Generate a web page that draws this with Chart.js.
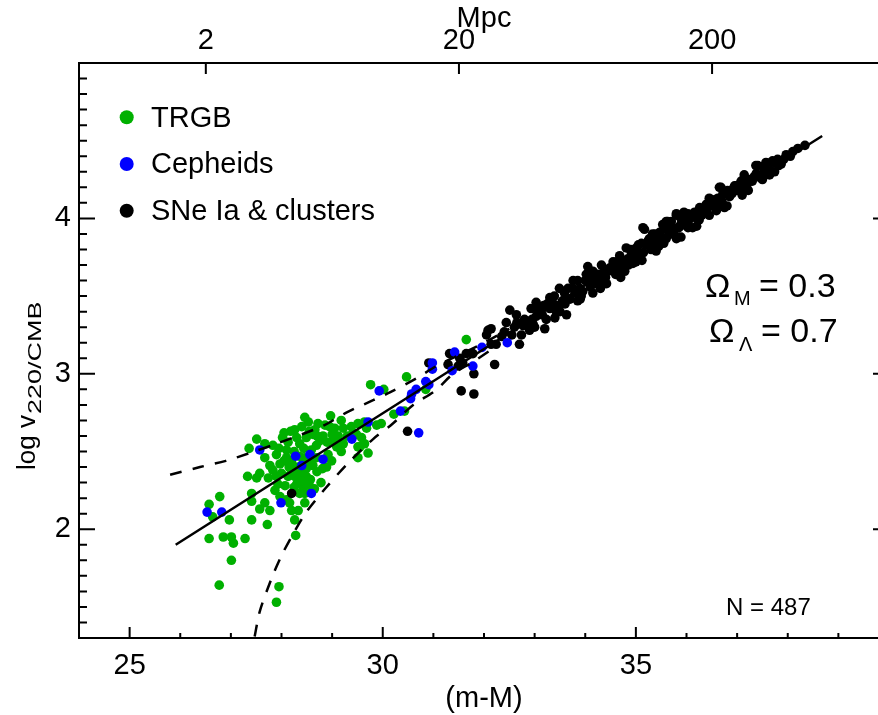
<!DOCTYPE html>
<html>
<head>
<meta charset="utf-8">
<script src="https://cdn.jsdelivr.net/npm/chart.js@4.4.1/dist/chart.umd.min.js"></script>
<style>
  html, body { margin: 0; padding: 0; background: #fff; overflow: hidden; }
  canvas { display: block; }
</style>
</head>
<body>
<canvas id="hubble" width="900" height="715"></canvas>
<script>
// distance modulus (m-M) and log v220/CMB
const trgbMu = [28.46,28.53,28.97,29.18,28.86,29.05,29.22,29.38,29.51,28.26,28.66,28.49,28.62,28.76,28.82,
  27.51,27.36,27.67,27.83,28.02,28.13,28.30,28.36,28.44,27.90,28.10,28.10,28.20,27.67,27.77,27.83,27.57,
  27.51,27.33,27.74,27.90,28.00,28.13,28.26,28.36,28.49,28.57,27.93,28.07,28.30,28.43,28.49,27.87,27.97,
  28.10,28.36,28.46,27.41,27.41,27.67,27.77,27.57,27.41,27.72,26.78,26.57,26.64,26.97,28.16,28.20,28.33,
  28.26,28.46,29.22,29.09,29.02,29.18,28.92,28.99,28.89,28.81,29.48,29.51,29.51,28.69,28.59,28.69,28.43,
  28.33,28.49,27.97,28.20,26.57,26.85,27.01,27.05,27.28,27.01,26.77,27.95,27.90,28.28,31.65,29.76,30.47,
  30.02,30.85,30.43,30.22,29.97,29.88,29.64,29.68,29.41,29.58,29.55,29.71,29.64,
  28.05,28.18,28.40,28.55,28.70,28.25,28.35,28.45,28.55,28.62,28.70,28.15,28.05,27.95,28.25,28.38,
  28.55,28.65,28.78,28.90,29.00,29.12,28.72,28.95,29.30];
const trgbLogV = [2.72,2.69,2.73,2.70,2.67,2.65,2.65,2.66,2.68,2.64,2.64,2.59,2.61,2.57,2.60,
  2.58,2.52,2.55,2.54,2.59,2.56,2.59,2.55,2.52,2.48,2.51,2.46,2.43,2.46,2.41,2.38,2.36,
  2.33,2.34,2.33,2.34,2.36,2.34,2.34,2.36,2.34,2.32,2.29,2.28,2.29,2.27,2.29,2.25,2.21,
  2.19,2.23,2.23,2.23,2.18,2.17,2.12,2.13,2.06,2.03,2.21,2.16,2.08,2.06,2.17,2.12,2.12,
  2.06,2.17,2.55,2.53,2.57,2.50,2.48,2.44,2.40,2.39,2.61,2.53,2.46,2.54,2.51,2.46,2.43,
  2.40,2.39,2.42,2.38,1.94,1.95,1.95,1.91,1.94,1.80,1.64,1.63,1.53,1.96,3.22,2.93,2.98,
  2.90,2.90,2.76,2.74,2.68,2.67,2.69,2.65,2.62,2.59,2.53,2.49,2.55,
  2.62,2.63,2.66,2.63,2.60,2.50,2.47,2.46,2.44,2.41,2.37,2.40,2.44,2.52,2.27,2.31,
  2.28,2.26,2.30,2.56,2.61,2.60,2.68,2.66,2.60];

const cephMu = [27.57,28.28,28.56,28.82,28.40,28.59,27.99,26.53,26.82,29.39,31.42,30.98,30.98,31.37,31.78,
  31.96,32.46,30.85,30.91,30.66,30.57,30.55,30.35,29.93,29.71,30.71];
const cephLogV = [2.51,2.47,2.48,2.45,2.41,2.23,2.17,2.11,2.11,2.58,3.14,3.07,3.03,3.02,3.05,
  3.17,3.20,2.95,2.93,2.90,2.87,2.84,2.76,2.89,2.69,2.62];

const sneMu = [28.20,30.49,31.55,31.80,31.80,32.21,31.32,31.52,31.65,31.78,31.58,31.29,31.49,32.05,32.08,
  32.14,32.24,32.51,32.64,32.44,32.74,32.70,32.84,32.87,32.93,33.03,30.91,32.14,32.80,32.77,32.97,33.03,
  33.10,33.23,33.20,33.43,33.63,33.30,33.39,33.49,33.59,33.66,33.76,33.89,33.92,33.85,34.02,34.05,34.15,
  34.22,34.32,34.35,34.38,34.48,34.55,34.58,34.68,34.68,34.74,34.81,34.84,34.94,34.91,35.01,35.11,35.17,
  35.27,35.33,35.40,35.47,35.53,35.60,35.70,35.80,35.86,35.89,35.99,36.03,35.14,35.27,35.47,35.60,35.73,
  35.83,35.80,35.93,36.03,36.12,36.16,36.26,36.35,36.45,36.59,36.55,36.65,36.72,36.81,36.85,36.98,37.05,
  37.14,37.11,37.24,37.34,37.41,37.47,37.54,37.57,37.74,37.70,37.87,37.97,38.34,37.67,37.54,37.44,37.37,
  36.95,36.68,36.78,36.39,35.99,35.63,33.30,33.45,33.55,33.70,33.80,33.95,34.10,34.20,34.30,34.40,34.45,
  34.60,34.70,34.75,34.85,34.95,35.05,35.15,35.20,35.30,35.35,35.45,35.50,35.60,35.65,35.75,35.85,35.95,
  36.05,36.20,36.30,36.40,36.50,36.60,36.70,36.90,37.00,37.20,37.30,37.60,37.80,38.10,33.50,33.90,34.30,
  34.70,35.00,35.40,35.80,36.20,36.80,37.10,37.50,34.00,34.55,35.25,35.90,33.15,33.25,32.95,32.60,32.35,
  32.40,32.55,32.65,32.90,33.05,33.18,33.35,33.60,33.75,33.85,34.08,34.25,34.42,34.62,34.78,34.90,35.05,
  35.12,35.38,35.55,35.70,35.95,36.10,36.25,36.45,36.62,36.75,36.92,37.08,37.22,37.38,37.52,37.64,37.82,
  37.92,38.05,38.20,33.00,33.40,34.15];
const sneLogV = [2.23,2.63,2.89,2.87,3.00,3.06,3.13,3.10,3.13,3.13,3.07,3.06,3.05,3.25,3.28,
  3.19,3.19,3.41,3.38,3.33,3.25,3.19,3.34,3.31,3.42,3.37,3.07,3.29,3.35,3.31,3.32,3.46,
  3.42,3.35,3.29,3.40,3.38,3.49,3.50,3.55,3.52,3.55,3.60,3.55,3.50,3.60,3.64,3.69,3.66,
  3.62,3.70,3.65,3.61,3.68,3.72,3.66,3.76,3.67,3.70,3.81,3.74,3.71,3.78,3.81,3.84,3.93,
  3.87,3.90,3.84,3.91,3.96,3.93,3.98,4.02,3.95,3.88,4.00,3.94,3.94,3.85,3.87,3.98,3.94,
  3.88,4.03,4.00,4.03,3.94,4.04,4.07,4.06,4.13,4.05,4.12,4.20,4.16,4.18,4.14,4.21,4.22,
  4.28,4.19,4.25,4.27,4.34,4.26,4.30,4.36,4.30,4.37,4.35,4.41,4.47,4.36,4.34,4.27,4.34,
  4.21,4.20,4.17,4.09,4.02,3.98,3.42,3.44,3.47,3.48,3.52,3.53,3.56,3.58,3.59,3.62,3.66,
  3.64,3.68,3.72,3.70,3.74,3.76,3.78,3.83,3.80,3.85,3.82,3.88,3.87,3.91,3.92,3.94,3.96,
  3.99,4.00,4.02,4.06,4.08,4.09,4.11,4.16,4.18,4.22,4.24,4.31,4.38,4.43,3.40,3.48,3.55,
  3.62,3.72,3.79,3.87,3.95,4.08,4.15,4.25,3.60,3.70,3.86,3.99,3.38,3.45,3.35,3.30,3.24,
  3.27,3.25,3.33,3.28,3.41,3.44,3.46,3.45,3.55,3.47,3.62,3.64,3.58,3.72,3.66,3.80,3.83,
  3.73,3.90,3.84,3.90,4.04,4.01,3.99,4.02,4.13,4.07,4.19,4.24,4.18,4.29,4.33,4.28,4.34,
  4.38,4.40,4.45,3.30,3.36,3.52];

// Hubble line and the two dashed envelopes
const fitMu = [25.91, 32.0, 38.68];
const fitLogV = [1.90, 3.16, 4.53];
const upperMu = [25.80,26.39,26.90,27.37,27.90,28.40,28.85,29.28,29.81,30.14,30.66,31.06,31.50,32.00,32.50];
const upperLogV = [2.35,2.40,2.44,2.49,2.55,2.61,2.67,2.75,2.83,2.88,2.97,3.05,3.12,3.20,3.29];
const lowerMu = [27.47,27.57,27.80,28.00,28.23,28.49,28.86,29.30,29.81,30.20,30.60,31.03,31.39,31.80,32.30];
const lowerLogV = [1.31,1.47,1.68,1.83,1.97,2.11,2.26,2.42,2.58,2.68,2.80,2.89,3.00,3.08,3.19];

const seriesLabels = ["TRGB", "Cepheids", "SNe Ia & clusters"];
const seriesColors = ["#00b000", "#0000ff", "#000000"];
const xTickLabels = [25, 30, 35];
const yTickLabels = [2, 3, 4];
const mpcTicks = [2, 20, 200];

const FONT = "'Liberation Sans', Arial, Helvetica, sans-serif";

function pairs(xs, ys) {
  return xs.map((x, i) => ({ x: x, y: ys[i] }));
}

function muFromMpc(d) {
  return 5 * Math.log10(d * 1e6) - 5;
}

const axisBorder = { display: true, color: "#000", width: 2 };
const noGrid = { display: false, drawTicks: false };

const insideTicks = {
  id: "insideTicks",
  afterDraw(chart) {
    const { ctx, chartArea: a, scales } = chart;
    ctx.save();
    ctx.strokeStyle = "#000";
    ctx.lineWidth = 2;
    ctx.beginPath();
    scales.x.ticks.forEach(t => {
      const px = scales.x.getPixelForValue(t.value);
      const len = Math.abs(t.value % 5) < 1e-6 ? 11 : 5;
      ctx.moveTo(px, a.bottom);
      ctx.lineTo(px, a.bottom - len);
    });
    scales.x2.ticks.forEach(t => {
      const px = scales.x2.getPixelForValue(t.value);
      ctx.moveTo(px, a.top);
      ctx.lineTo(px, a.top + 11);
    });
    scales.y.ticks.forEach(t => {
      const py = scales.y.getPixelForValue(t.value);
      const major = Math.abs(t.value - Math.round(t.value)) < 1e-6;
      const len = major ? 16 : 8;
      ctx.moveTo(a.left, py);
      ctx.lineTo(a.left + len, py);
      ctx.moveTo(a.right, py);
      ctx.lineTo(a.right - len, py);
    });
    ctx.stroke();
    ctx.restore();
  }
};

const labelsPlugin = {
  id: "labels",
  afterDraw(chart) {
    const { ctx } = chart;
    ctx.save();
    ctx.fillStyle = "#000";
    ctx.textBaseline = "alphabetic";

    // legend
    seriesLabels.forEach((lab, i) => {
      ctx.beginPath();
      ctx.arc(126.7, 117.3 + i * 46.7, 7, 0, Math.PI * 2);
      ctx.fillStyle = seriesColors[i];
      ctx.fill();
      ctx.fillStyle = "#000";
      ctx.font = "29px " + FONT;
      ctx.textAlign = "left";
      ctx.fillText(lab, 151, 127 + i * 46.3);
    });

    // axis titles
    ctx.textAlign = "center";
    ctx.font = "29px " + FONT;
    ctx.fillText("(m-M)", 484, 707);
    ctx.fillText("Mpc", 484, 27);

    ctx.save();
    ctx.translate(35, 470);
    ctx.rotate(-Math.PI / 2);
    ctx.textAlign = "left";
    ctx.font = "26px " + FONT;
    ctx.fillText("log v", 0, 0);
    const w = ctx.measureText("log v").width;
    ctx.translate(w + 1, 6);
    ctx.scale(1.5, 1);
    ctx.font = "18px " + FONT;
    ctx.fillText("220/CMB", 0, 0);
    ctx.restore();

    // cosmology note
    ctx.textAlign = "left";
    ctx.font = "34px " + FONT;
    ctx.fillText("\u03A9", 705, 297);
    ctx.fillText("= 0.3", 759, 297);
    ctx.fillText("\u03A9", 709, 342);
    ctx.fillText("= 0.7", 761, 342);
    ctx.font = "20px " + FONT;
    ctx.fillText("M", 734, 305);
    ctx.fillText("\u039B", 739, 351);

    ctx.font = "24px " + FONT;
    ctx.fillText("N = 487", 726, 615);
    ctx.restore();
  }
};

new Chart(document.getElementById("hubble"), {
  type: "scatter",
  data: {
    datasets: [
      { type: "line", label: "fit", data: pairs(fitMu, fitLogV), borderColor: "#000",
        borderWidth: 2.5, pointRadius: 0, tension: 0, fill: false, order: 0 },
      { type: "line", label: "upper", data: pairs(upperMu, upperLogV), borderColor: "#000",
        borderWidth: 2.5, borderDash: [12, 11], pointRadius: 0, tension: 0.3, fill: false, order: 0 },
      { type: "line", label: "lower", data: pairs(lowerMu, lowerLogV), borderColor: "#000",
        borderWidth: 2.5, borderDash: [12, 11], pointRadius: 0, tension: 0.3, fill: false, order: 0 },
      { label: seriesLabels[0], data: pairs(trgbMu, trgbLogV), backgroundColor: seriesColors[0],
        borderColor: seriesColors[0], borderWidth: 0, pointRadius: 4.8, order: 3 },
      { label: seriesLabels[1], data: pairs(cephMu, cephLogV), backgroundColor: seriesColors[1],
        borderColor: seriesColors[1], borderWidth: 0, pointRadius: 4.8, order: 1 },
      { label: seriesLabels[2], data: pairs(sneMu, sneLogV), backgroundColor: seriesColors[2],
        borderColor: seriesColors[2], borderWidth: 0, pointRadius: 4.8, order: 2 }
    ]
  },
  options: {
    responsive: false,
    animation: false,
    layout: { padding: 0 },
    plugins: {
      legend: { display: false },
      tooltip: { enabled: false }
    },
    scales: {
      x: {
        type: "linear", position: "bottom", min: 24, max: 40,
        grid: noGrid, border: axisBorder,
        ticks: {
          stepSize: 1, autoSkip: false, maxRotation: 0, padding: 11, color: "#000",
          font: { family: FONT, size: 29 },
          callback: v => xTickLabels.includes(v) ? String(v) : ""
        },
        afterFit: s => { s.height = 77; }
      },
      x2: {
        type: "linear", position: "top", min: 24, max: 40,
        grid: noGrid, border: axisBorder,
        afterBuildTicks: s => { s.ticks = mpcTicks.map(d => ({ value: muFromMpc(d) })); },
        ticks: {
          autoSkip: false, maxRotation: 0, padding: 5, color: "#000",
          font: { family: FONT, size: 29 },
          callback: (v, i) => String(mpcTicks[i])
        },
        afterFit: s => { s.height = 63; }
      },
      y: {
        type: "linear", position: "left", min: 1.3, max: 5,
        grid: noGrid, border: axisBorder,
        ticks: {
          stepSize: 0.1, maxTicksLimit: 100, autoSkip: false, padding: 8, color: "#000",
          font: { family: FONT, size: 29 },
          callback: v => {
            const r = Math.round(v);
            return Math.abs(v - r) < 1e-6 && yTickLabels.includes(r) ? String(r) : "";
          }
        },
        afterFit: s => { s.width = 79; }
      },
      y2: {
        type: "linear", position: "right", min: 1.3, max: 5,
        grid: noGrid, border: axisBorder,
        ticks: { display: false, stepSize: 0.1, maxTicksLimit: 100 },
        afterFit: s => { s.width = 11; }
      }
    }
  },
  plugins: [insideTicks, labelsPlugin]
});
</script>
</body>
</html>
